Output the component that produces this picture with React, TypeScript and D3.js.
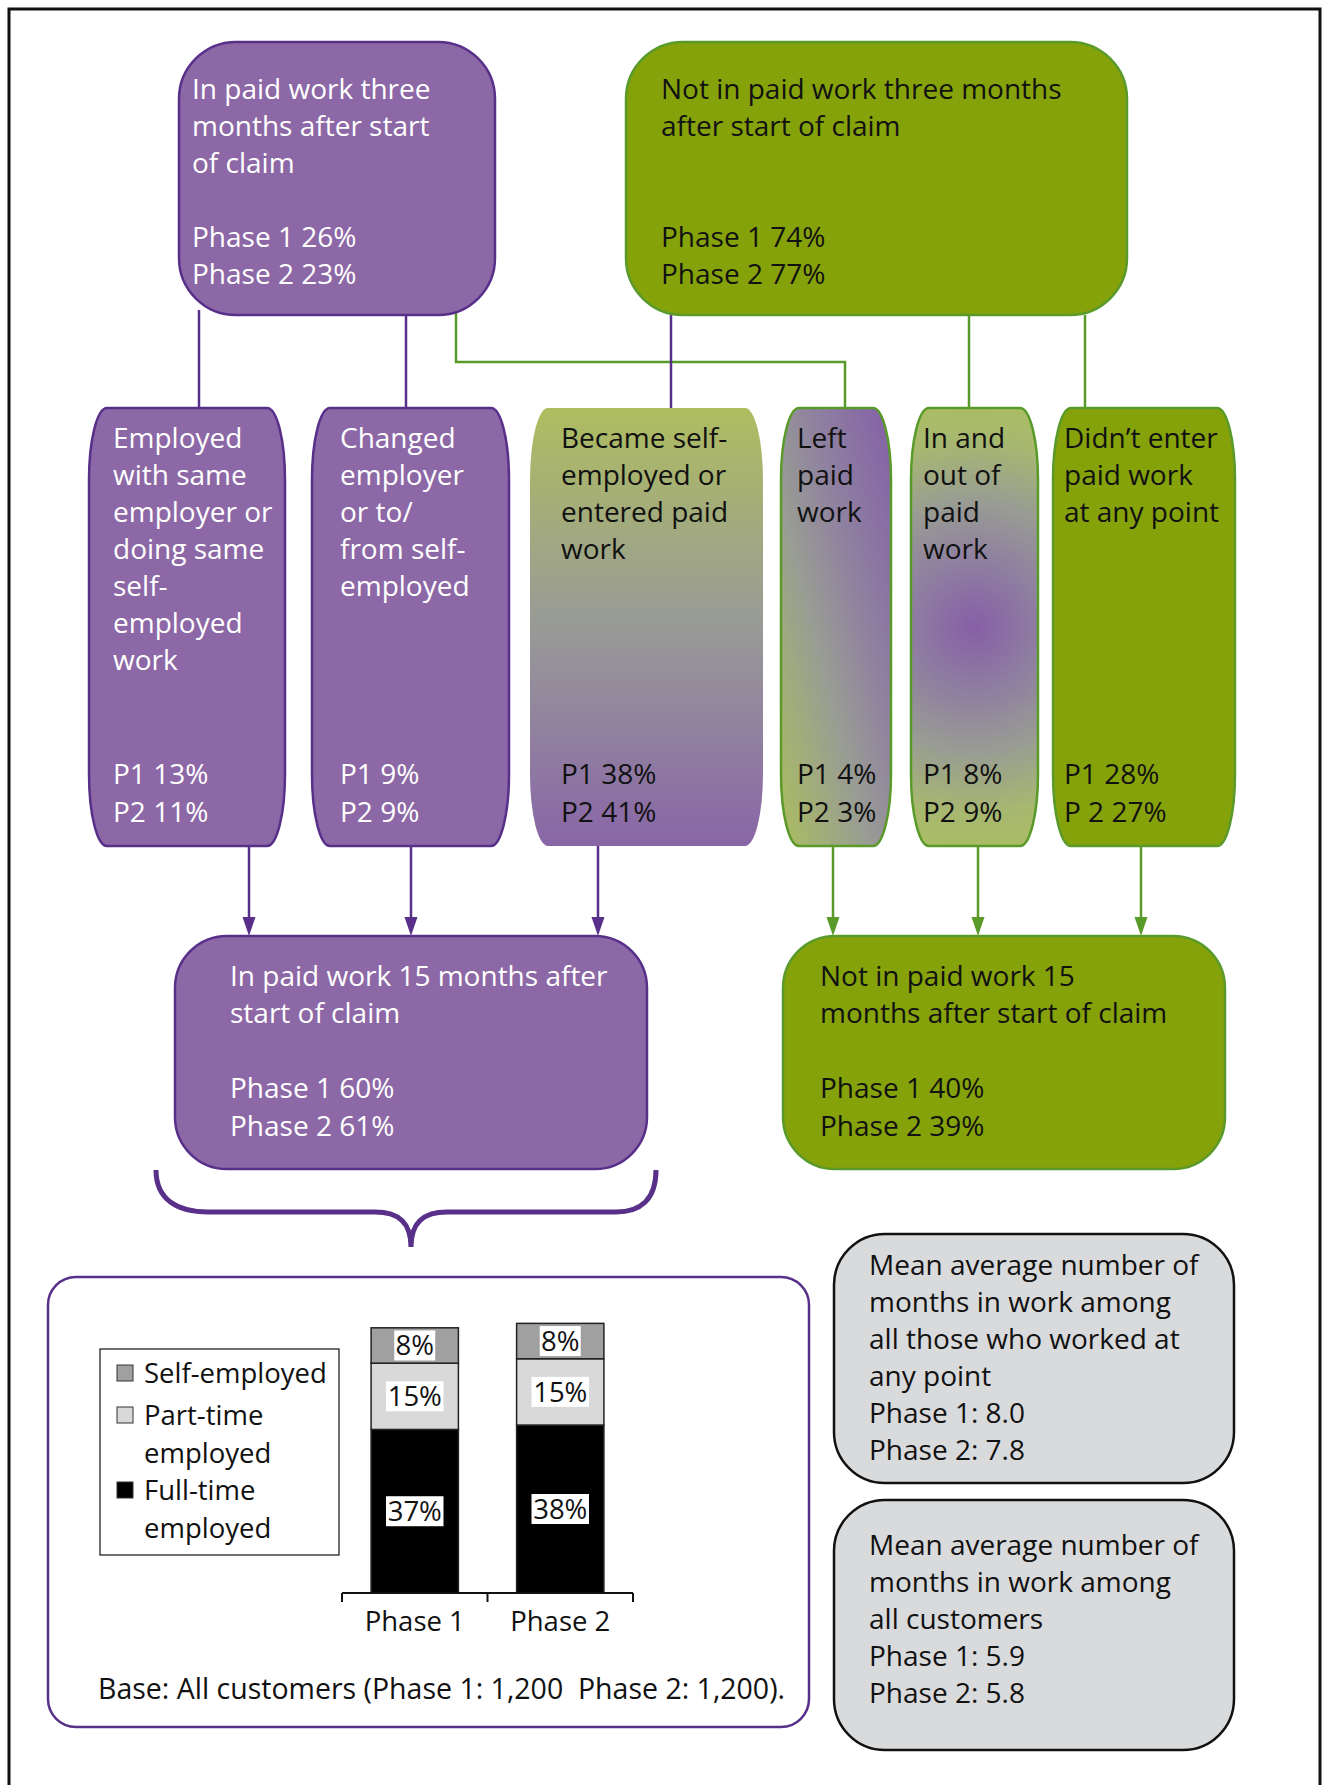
import React from "react";
import * as d3 from "d3";

// ---------- DATA ----------
const topLabels: string[][] = [
  ["In paid work three", "months after start", "of claim"],
  ["Not in paid work three months", "after start of claim"],
];
const topPhase1 = [26, 74];
const topPhase2 = [23, 77];

const midLabels: string[][] = [
  ["Employed", "with same", "employer or", "doing same", "self-", "employed", "work"],
  ["Changed", "employer", "or to/", "from self-", "employed"],
  ["Became self-", "employed or", "entered paid", "work"],
  ["Left", "paid", "work"],
  ["In and", "out of", "paid", "work"],
  ["Didn\u2019t enter", "paid work", "at any point"],
];
const midP1 = [13, 9, 38, 4, 8, 28];
const midP2 = [11, 9, 41, 3, 9, 27];
const midP2Prefix = ["P2", "P2", "P2", "P2", "P2", "P 2"];

const bottomLabels: string[][] = [
  ["In paid work 15 months after", "start of claim"],
  ["Not in paid work 15", "months after start of claim"],
];
const bottomPhase1 = [60, 40];
const bottomPhase2 = [61, 39];

const barCategories = ["Phase 1", "Phase 2"];
const fullTime = [37, 38];
const partTime = [15, 15];
const selfEmployed = [8, 8];
const legendLabels = [["Self-employed"], ["Part-time", "employed"], ["Full-time", "employed"]];
const baseNote = "Base: All customers (Phase 1: 1,200\u00A0 Phase 2: 1,200).";

const meanWorkedLabel = ["Mean average number of", "months in work among", "all those who worked at", "any point"];
const meanWorked = [8.0, 7.8];
const meanAllLabel = ["Mean average number of", "months in work among", "all customers"];
const meanAll = [5.9, 5.8];

// ---------- STYLE ----------
const PURPLE = "#8D68A6";
const PURPLE_S = "#58308A";
const GREEN = "#86A20B";
const GREEN_S = "#5A9A2A";
const LIGHT_GREEN = "#ABBD62";
const FONT = "'Open Sans', Lato, sans-serif";
const FONT2 = "'Open Sans', Lato, sans-serif";
const FS = 28;
const LH = 37;

const W = 1324;
const H = 1785;

function Lines({ x, y, lines, color, fs = FS, lh = LH, font = FONT, ls = 0 }: any) {
  return (
    <g fill={color} fontFamily={font} fontSize={fs} letterSpacing={ls}>
      {lines.map((t: string, i: number) =>
        t ? (
          <text key={i} x={x} y={y + i * lh} dy="0.35em">
            {t}
          </text>
        ) : null
      )}
    </g>
  );
}

export default function App() {
  const topBoxes = [
    { x: 179, y: 42, w: 316, h: 273, fill: PURPLE, stroke: PURPLE_S, tc: "#fff", tx: 192 },
    { x: 626, y: 42, w: 501, h: 273, fill: GREEN, stroke: GREEN_S, tc: "#111", tx: 661 },
  ];
  const midY = 408;
  const midH = 438;
  const midBoxes = [
    { x: 89, w: 196, fill: PURPLE, stroke: PURPLE_S, tc: "#fff", tx: 113 },
    { x: 312, w: 197, fill: PURPLE, stroke: PURPLE_S, tc: "#fff", tx: 340 },
    { x: 530, w: 233, fill: "url(#gBecame)", stroke: "none", tc: "#111", tx: 561 },
    { x: 781, w: 110, fill: "url(#gLeft)", stroke: GREEN_S, tc: "#111", tx: 797 },
    { x: 911, w: 127, fill: "url(#gInOut)", stroke: GREEN_S, tc: "#111", tx: 923 },
    { x: 1053, w: 182, fill: GREEN, stroke: GREEN_S, tc: "#111", tx: 1064 },
  ];
  const botY = 936;
  const botH = 233;
  const botBoxes = [
    { x: 175, w: 472, fill: PURPLE, stroke: PURPLE_S, tc: "#fff", tx: 230 },
    { x: 783, w: 442, fill: GREEN, stroke: GREEN_S, tc: "#111", tx: 820 },
  ];

  // bar chart scales
  const x = d3.scaleBand<string>().domain(barCategories).range([342, 633]).paddingInner(0.4).paddingOuter(0.2);
  const y = d3.scaleLinear().domain([0, 100]).range([1593, 1151]);
  const seriesKeys = ["fullTime", "partTime", "selfEmployed"];
  const table = barCategories.map((c, i) => ({
    cat: c,
    fullTime: fullTime[i],
    partTime: partTime[i],
    selfEmployed: selfEmployed[i],
  }));
  const stacked = d3.stack<any>().keys(seriesKeys)(table);
  const segFill: Record<string, string> = {
    fullTime: "#000000",
    partTime: "#D9D9D9",
    selfEmployed: "#A0A0A0",
  };
  const legendFill = ["#A0A0A0", "#D9D9D9", "#000000"];
  const fmt1 = d3.format(".1f");

  return (
    <svg
      width={W}
      height={H}
      viewBox={`0 0 ${W} ${H}`}
      style={{ position: "absolute", left: 0, top: 0, display: "block", background: "#fff" }}
    >
      <defs>
        <linearGradient id="gBecame" x1="0" y1="0" x2="0" y2="1">
          <stop offset="0" stopColor="#AEBD60" />
          <stop offset="0.5" stopColor="#989A97" />
          <stop offset="1" stopColor="#8966A7" />
        </linearGradient>
        <linearGradient id="gLeft" x1="1" y1="0" x2="0" y2="1">
          <stop offset="0" stopColor="#8360A7" />
          <stop offset="0.35" stopColor="#8F80A0" />
          <stop offset="0.6" stopColor="#999C94" />
          <stop offset="1" stopColor="#ABBE5F" />
        </linearGradient>
        <radialGradient id="gInOut" gradientUnits="userSpaceOnUse" cx="974" cy="627" r="228">
          <stop offset="0" stopColor="#875FA7" />
          <stop offset="0.3" stopColor="#8F80A0" />
          <stop offset="0.55" stopColor="#999C93" />
          <stop offset="0.82" stopColor="#A7B870" />
          <stop offset="1" stopColor={LIGHT_GREEN} />
        </radialGradient>
      </defs>

      {/* outer frame */}
      <rect x={9} y={9} width={1311} height={1800} fill="none" stroke="#111" strokeWidth={3} />

      {/* connectors top -> middle */}
      <g fill="none" strokeWidth={2.5}>
        <path d="M456,308 V362 H845 V408" stroke={GREEN_S} />
        <path d="M969,315 V408" stroke={GREEN_S} />
        <path d="M1085,315 V408" stroke={GREEN_S} />
        <path d="M199,310 V408" stroke={PURPLE_S} />
        <path d="M406,315 V408" stroke={PURPLE_S} />
        <path d="M671,312 V408" stroke={PURPLE_S} />
      </g>

      {/* arrows middle -> bottom */}
      <g fill="none" strokeWidth={2.5}>
        {[249, 411, 598].map((ax) => (
          <line key={ax} x1={ax} y1={846} x2={ax} y2={918} stroke={PURPLE_S} />
        ))}
        {[833, 978, 1141].map((ax) => (
          <line key={ax} x1={ax} y1={846} x2={ax} y2={918} stroke={GREEN_S} />
        ))}
      </g>
      <g>
        {[249, 411, 598].map((ax) => (
          <path key={ax} d={`M${ax - 6.5},917 L${ax + 6.5},917 L${ax},936 Z`} fill={PURPLE_S} />
        ))}
        {[833, 978, 1141].map((ax) => (
          <path key={ax} d={`M${ax - 6.5},917 L${ax + 6.5},917 L${ax},936 Z`} fill={GREEN_S} />
        ))}
      </g>

      {/* top boxes */}
      {topBoxes.map((b, i) => (
        <g key={i}>
          <rect x={b.x} y={b.y} width={b.w} height={b.h} rx={57} ry={57} fill={b.fill} stroke={b.stroke} strokeWidth={2.5} />
          <Lines x={b.tx} y={89} lines={topLabels[i]} color={b.tc} />
          <Lines x={b.tx} y={237} lines={[`Phase 1 ${topPhase1[i]}%`, `Phase 2 ${topPhase2[i]}%`]} color={b.tc} />
        </g>
      ))}

      {/* middle boxes */}
      {midBoxes.map((b, i) => (
        <g key={i}>
          <rect x={b.x} y={midY} width={b.w} height={midH} rx={18} ry={72} fill={b.fill} stroke={b.stroke} strokeWidth={2.5} />
          <Lines x={b.tx} y={438} lines={midLabels[i]} color={b.tc} />
          <Lines x={b.tx} y={774} lines={[`P1 ${midP1[i]}%`, `${midP2Prefix[i]} ${midP2[i]}%`]} color={b.tc} lh={38} />
        </g>
      ))}

      {/* bottom boxes */}
      {botBoxes.map((b, i) => (
        <g key={i}>
          <rect x={b.x} y={botY} width={b.w} height={botH} rx={52} ry={52} fill={b.fill} stroke={b.stroke} strokeWidth={2.5} />
          <Lines x={b.tx} y={976} lines={bottomLabels[i]} color={b.tc} />
          <Lines x={b.tx} y={1088} lines={[`Phase 1 ${bottomPhase1[i]}%`, `Phase 2 ${bottomPhase2[i]}%`]} color={b.tc} lh={38} />
        </g>
      ))}

      {/* brace */}
      <path
        d="M156,1170 C156,1200 178,1212 208,1212 L375,1212 C398,1212 411,1222 411,1247 M411,1247 C411,1222 424,1212 447,1212 L616,1212 C640,1212 656,1200 656,1170"
        fill="none"
        stroke={PURPLE_S}
        strokeWidth={5}
      />

      {/* bar chart panel */}
      <rect x={48} y={1277} width={761} height={450} rx={28} ry={28} fill="#fff" stroke={PURPLE_S} strokeWidth={2.5} />

      {/* legend */}
      <rect x={100} y={1349} width={239} height={206} fill="#fff" stroke="#222" strokeWidth={1.3} />
      {legendLabels.map((lab, i) => {
        const cy = [1373, 1415, 1490][i];
        return (
          <g key={i}>
            <rect x={117} y={cy - 8} width={16} height={16} fill={legendFill[i]} stroke="#333" strokeWidth={1} />
            <Lines x={144} y={cy} lines={lab} color="#111" fs={27.5} lh={38} />
          </g>
        );
      })}

      {/* stacked bars */}
      {stacked.map((s) => (
        <g key={s.key}>
          {s.map((d: any, j: number) => {
            const bx = x(d.data.cat) as number;
            const bw = x.bandwidth();
            const y0 = y(d[0]);
            const y1 = y(d[1]);
            const val = d[1] - d[0];
            const label = `${val}%`;
            const lw = label.length * 16.5 + 8;
            const cy = (y0 + y1) / 2;
            return (
              <g key={j}>
                <rect x={bx} y={y1} width={bw} height={y0 - y1} fill={segFill[s.key]} stroke="#222" strokeWidth={1.5} />
                <rect x={bx + bw / 2 - lw / 2} y={cy - 15} width={lw} height={30} fill="#fff" />
                <text x={bx + bw / 2} y={cy} dy="0.35em" textAnchor="middle" fontFamily={FONT} fontSize={27.5} fill="#111">
                  {label}
                </text>
              </g>
            );
          })}
        </g>
      ))}

      {/* axis */}
      <g stroke="#111" strokeWidth={2} fill="none">
        <line x1={342} x2={633} y1={y(0)} y2={y(0)} />
        {[342, 342 + (633 - 342) / 2, 633].map((tx) => (
          <line key={tx} x1={tx} x2={tx} y1={y(0)} y2={y(0) + 9} />
        ))}
      </g>
      {barCategories.map((c) => (
        <text key={c} x={(x(c) as number) + x.bandwidth() / 2} y={1621} dy="0.35em" textAnchor="middle" fontFamily={FONT} fontSize={27.5} fill="#111">
          {c}
        </text>
      ))}
      <text x={98} y={1689} dy="0.35em" fontFamily={FONT} fontSize={28.5} fill="#111">
        {baseNote}
      </text>

      {/* mean boxes */}
      <rect x={834} y={1234} width={400} height={249} rx={51} ry={51} fill="#D9DADC" stroke="#111" strokeWidth={2.5} />
      <Lines
        x={869}
        y={1265}
        lines={[...meanWorkedLabel, `Phase 1: ${fmt1(meanWorked[0])}`, `Phase 2: ${fmt1(meanWorked[1])}`]}
        color="#111"
        font={FONT2}
        fs={28}
      />
      <rect x={834} y={1500} width={400} height={250} rx={51} ry={51} fill="#D9DADC" stroke="#111" strokeWidth={2.5} />
      <Lines
        x={869}
        y={1545}
        lines={[...meanAllLabel, `Phase 1: ${fmt1(meanAll[0])}`, `Phase 2: ${fmt1(meanAll[1])}`]}
        color="#111"
        font={FONT2}
        fs={28}
      />
    </svg>
  );
}
